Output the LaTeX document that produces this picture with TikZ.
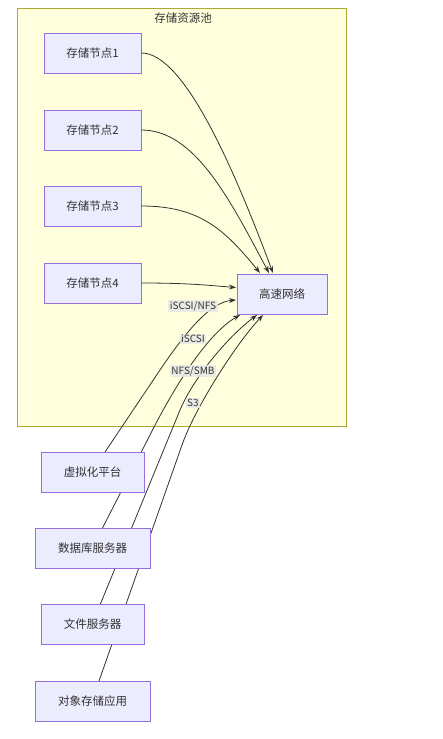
\documentclass[tikz,border=0pt]{standalone}
\usepackage{fontspec}
\setmainfont{Noto Sans CJK SC}
\usetikzlibrary{arrows.meta}
\definecolor{nodefill}{HTML}{ECECFF}
\definecolor{nodestroke}{HTML}{9370DB}
\definecolor{clfill}{HTML}{FFFFDE}
\definecolor{clstroke}{HTML}{AAAA33}
\definecolor{edgec}{HTML}{333333}
\definecolor{lblbg}{HTML}{E8E8E8}
\definecolor{txt}{HTML}{333333}
\tikzset{
  box/.style={draw=nodestroke, fill=nodefill, line width=0.8pt, text=txt, font=\fontsize{11.5}{13}\selectfont, inner sep=0pt},
  edge/.style={draw=edgec, line width=0.8pt, -{Stealth[length=7pt,width=5pt]}},
  lbl/.style={fill=lblbg, fill opacity=0.85, text opacity=1, text=txt, font=\fontsize{10}{12}\selectfont, inner sep=1.5pt}
}
\begin{document}
\begin{tikzpicture}[x=1pt,y=-1pt]
\useasboundingbox (0,0) rectangle (443,739);
\fill[white] (0,0) rectangle (443,739);
\draw[draw=clstroke, fill=clfill, line width=0.8pt] (17,8) rectangle (346,426);
\node[text=txt, font=\fontsize{11.5}{13}\selectfont] (title) at (183,18) {存储资源池};

\node[box, minimum width=97pt, minimum height=40pt] (s1) at (92.5,53) {存储节点1};
\node[box, minimum width=97pt, minimum height=40pt] (s2) at (92.5,130) {存储节点2};
\node[box, minimum width=97pt, minimum height=40pt] (s3) at (92.5,206) {存储节点3};
\node[box, minimum width=97pt, minimum height=40pt] (s4) at (92.5,283) {存储节点4};
\node[box, minimum width=90pt, minimum height=40pt] (net) at (282,294) {高速网络};

\coordinate (n1) at (273,273);
\coordinate (n2) at (269,273);
\coordinate (n3) at (260,273);
\coordinate (n4) at (236,287.5);
\coordinate (m1) at (236,300);
\coordinate (m2) at (240,315);
\coordinate (m3) at (257,315);
\coordinate (m4) at (263,315);

\draw[edge] (s1.east) .. controls (185,53) and (235.5,173) .. (n1);
\draw[edge] (s2.east) .. controls (195,130) and (230,200) .. (n2);
\draw[edge] (s3.east) .. controls (200,206) and (225,230) .. (n3);
\draw[edge] (s4.east) .. controls (190,283) and (210,285.5) .. (n4);

% client edges (drawn first so the client nodes cover them)
\coordinate (vt) at (105,452);
\coordinate (dt) at (102,529);
\coordinate (ft) at (100,605);
\coordinate (ot) at (99,681);
\coordinate (vb) at (160,370);
\coordinate (db2) at (150,435);
\coordinate (fb) at (180,410);
\coordinate (ob) at (182,445);

\draw[edge] (vt) -- (vb) .. controls (185,333) and (210,302) .. (m1);
\draw[edge] (dt) -- (db2) .. controls (170,395) and (205,335) .. (m2);
\draw[edge] (ft) -- (fb) .. controls (195,375) and (230,335) .. (m3);
\draw[edge] (ot) -- (ob) .. controls (195,408) and (235,345) .. (m4);

\node[box, minimum width=103pt, minimum height=40pt] (virt) at (92.5,472) {虚拟化平台};
\node[box, minimum width=115pt, minimum height=40pt] (db) at (92.5,548) {数据库服务器};
\node[box, minimum width=103pt, minimum height=40pt] (fs) at (92.5,624) {文件服务器};
\node[box, minimum width=115pt, minimum height=40pt] (obj) at (92.5,701) {对象存储应用};

\node[lbl] (l1) at (193,306) {iSCSI/NFS};
\node[lbl] (l2) at (193,339) {iSCSI};
\node[lbl] (l3) at (193,371) {NFS/SMB};
\node[lbl] (l4) at (193,403) {S3};
\end{tikzpicture}
\end{document}
